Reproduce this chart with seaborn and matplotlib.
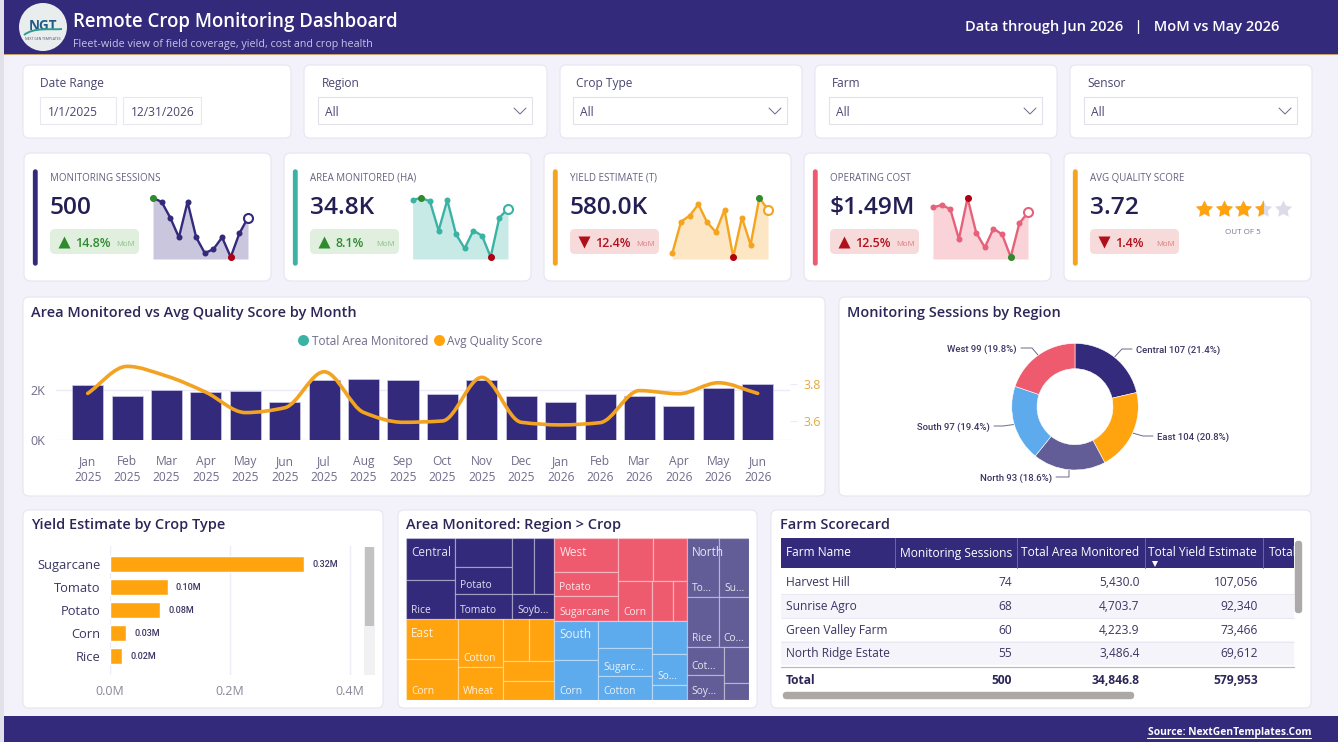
import numpy as np
import matplotlib
matplotlib.use("Agg")
import matplotlib.pyplot as plt
from matplotlib.patches import FancyBboxPatch, Rectangle, Circle, PathPatch
from matplotlib.path import Path
from matplotlib.lines import Line2D
import seaborn as sns

# ---------- data ----------
MONTHS = ['Jan\n2025','Feb\n2025','Mar\n2025','Apr\n2025','May\n2025','Jun\n2025','Jul\n2025','Aug\n2025','Sep\n2025',
          'Oct\n2025','Nov\n2025','Dec\n2025','Jan\n2026','Feb\n2026','Mar\n2026','Apr\n2026','May\n2026','Jun\n2026']
AREA_MONTHLY = [2185,1748,1974,1907,1947,1510,2397,2437,2371,1828,2397,1762,1497,1828,1735,1338,2066,2238]
QUALITY_MONTHLY = [3.748,3.893,3.841,3.754,3.645,3.671,3.864,3.646,3.593,3.600,3.834,3.593,3.579,3.591,3.763,3.746,3.805,3.748]
SESSIONS_12M = [36,35,31,26,35,26,22,23,26,21,27,31]
AREA_12M = AREA_MONTHLY[-12:]
YIELD_12M = [17000,30700,33350,38300,30450,26250,35800,15400,32500,20700,41000,36000]
COST_12M = [99800,102000,98200,69400,108800,75500,61400,79400,73900,52200,84500,95000]

REGIONS = ['Central','East','North','South','West']
REGION_SESSIONS = [107,104,93,97,99]
REGION_LABELS = ['Central 107 (21.4%)','East 104 (20.8%)','North 93 (18.6%)','South 97 (19.4%)','West 99 (19.8%)']

CROPS = ['Sugarcane','Tomato','Potato','Corn','Rice']
CROP_YIELD = [0.3228,0.096,0.083,0.0267,0.0205]

TREE_CENTRAL = [[('',1301),('Rice',1208)],
                [('',1038),('Potato',966),('Tomato',895)],
                [[('',764),('',695)],('Soyb...',677)]]
TREE_EAST = [[('',1314),('Corn',1336)],
             [('Cotton',1317),('Wheat',928)],
             [[('',686),('',677)],('',649),('',606)]]
TREE_WEST = [[('',1366),('Potato',964),('Sugarcane',991)],
             [[('',945),('',900)],[('Corn',847),('',523),('',332)]]]
TREE_SOUTH = [[('',1078),('Corn',1087)],
              [('',932),('Sugarc...',932),('Cotton',830)],
              [('',704),('So...',683),('',316)]]
TREE_NORTH = [[[('To...',1210),('Su...',1111)],
               [('Rice',1005),('Co...',963)],
               [[('Cot...',654),('Soy...',591)],[('',565),('',262)]]]]
TREEMAP_COLUMNS = [['Central','East'],['West','South'],['North']]
TREES = {'Central':TREE_CENTRAL,'East':TREE_EAST,'West':TREE_WEST,'South':TREE_SOUTH,'North':TREE_NORTH}

TABLE_HEADERS = ['Farm Name','Monitoring Sessions','Total Area Monitored','Total Yield Estimate']
FARMS = ['Harvest Hill','Sunrise Agro','Green Valley Farm','North Ridge Estate']
FARM_SESSIONS = ['74','68','60','55']
FARM_AREA = ['5,430.0','4,703.7','4,223.9','3,486.4']
FARM_YIELD = ['107,056','92,340','73,466','69,612']
TOTALS = ['Total','500','34,846.8','579,953']

KPI_TITLES = ['MONITORING SESSIONS','AREA MONITORED (HA)','YIELD ESTIMATE (T)','OPERATING COST','AVG QUALITY SCORE']
KPI_VALUES = ['500','34.8K','580.0K','$1.49M','3.72']
KPI_DELTAS = ['14.8%','8.1%','12.4%','12.5%','1.4%']
KPI_UP = [True,True,False,True,False]
KPI_GOOD = [True,True,False,False,False]
QUALITY_SCORE = 3.72
FILTERS = ['Region','Crop Type','Farm','Sensor']

# ---------- style ----------
NAVY='#332A7C'; TEAL='#3BB3A4'; ORANGE='#FFA30F'; CORAL='#EF5B6E'; BLUE='#5DAAEC'; SLATE='#625C97'
INK='#2B2657'; GREY='#6F6C8A'; PAGE='#F3F1F9'
REGION_COLORS={'Central':NAVY,'East':ORANGE,'North':SLATE,'South':BLUE,'West':CORAL}

sns.set_style('white')
plt.rcParams['font.family']=['Open Sans','DejaVu Sans']
W,H=1338,742
fig=plt.figure(figsize=(W/100,H/100),dpi=100,facecolor=PAGE)
def fs(px): return px*0.72
def px_axes(x0,y0,x1,y1,z=2):
    ax=fig.add_axes([x0/W,1-y1/H,(x1-x0)/W,(y1-y0)/H],zorder=z)
    ax.patch.set_alpha(0)
    return ax

bg=fig.add_axes([0,0,1,1],zorder=0); bg.set_xlim(0,W); bg.set_ylim(H,0); bg.axis('off')
top=fig.add_axes([0,0,1,1],zorder=10); top.set_xlim(0,W); top.set_ylim(H,0); top.axis('off'); top.patch.set_alpha(0)

def card(x0,y0,x1,y1,r=6):
    bg.add_patch(FancyBboxPatch((x0+r,y0+r),x1-x0-2*r,y1-y0-2*r,boxstyle=f'round,pad={r},rounding_size={r}',
                                fc='white',ec='#E7E5F1',lw=0.8))
def rect(x0,y0,x1,y1,fc,ec='none',lw=0,a=top,z=1):
    a.add_patch(Rectangle((x0,y0),x1-x0,y1-y0,fc=fc,ec=ec,lw=lw,zorder=z))
def txt(x,y,s,size,color=INK,ha='left',va='center_baseline',weight='normal',a=top,**k):
    return a.text(x,y-1,s,fontsize=fs(size),color=color,ha=ha,va=va,fontweight=weight,**k)

# page frame
rect(0,0,4,H,'#E2E1EA',a=bg)
rect(4,0,W,53.5,NAVY,a=bg)
rect(4,53.5,W,55,'#C9A06A',a=bg)
rect(4,716,W,H,NAVY,a=bg)

# logo
bg.add_patch(Circle((43,27),24,fc='#E9EDEE',ec='none',zorder=2))
txt(43,26,'NGT',13.5,color='#1F5D86',ha='center',weight='bold',a=bg,zorder=3)
bg.add_patch(PathPatch(Path([(24,35),(34,27),(50,30),(62,29)],[Path.MOVETO,Path.CURVE4,Path.CURVE4,Path.CURVE4]),
                       fc='none',ec='#2E9A93',lw=1.4,zorder=3))
txt(43,39.5,'NEXT GEN TEMPLATES',3.4,color='#44506a',ha='center',a=bg,zorder=3)
txt(73,20.5,'Remote Crop Monitoring Dashboard',18.6,color='white',weight='semibold')
txt(73,44.5,'Fleet-wide view of field coverage, yield, cost and crop health',10.8,color='#C6C2E6')
txt(965,26.5,'Data through Jun 2026   |   MoM vs May 2026',14.6,color='white',weight='semibold')
t=txt(1311,732.5,'Source: NextGenTemplates.Com',10.3,color='white',ha='right',weight='bold')
top.plot([1147,1311],[738,738],color='white',lw=0.8)

# filters
card(23,65,291,138)
txt(40,83,'Date Range',12,color='#4A4770')
for x0,x1,s in [(40,116,'1/1/2025'),(123,201,'12/31/2026')]:
    rect(x0,97,x1,124,'white','#E9E8F0',0.8,a=bg,z=2)
    txt(x0+8,112,s,12,color='#4A4770')
for (cx0,cx1,lx,dx0,dx1),name in zip([(304,547,322,318,532),(560,802,576,573,787),(815,1057,832,829,1042),(1070,1312,1087,1084,1297)],FILTERS):
    card(cx0,65,cx1,138)
    txt(lx,83,name,12,color='#4A4770')
    rect(dx0,97,dx1,124,'white','#E2E1EA',0.8,a=bg,z=2)
    txt(dx0+7,112,'All',12,color='#4A4770')
    top.plot([dx1-18,dx1-12,dx1-6],[108,114,108],color='#6A678C',lw=0.7)

# KPI cards
KPI_X=[24,284,544,804,1064]
KPI_ACCENT=[NAVY,TEAL,'#F4A41E',CORAL,'#F4A41E']
for i,x0 in enumerate(KPI_X):
    card(x0,153,x0+247,281,r=7)
    bg.add_patch(FancyBboxPatch((x0+9,169.5),4.6,96,boxstyle='round,pad=0,rounding_size=2.3',fc=KPI_ACCENT[i],ec=KPI_ACCENT[i],lw=0.2,zorder=2))
    tx=x0+26
    txt(tx,178,KPI_TITLES[i],9.8,color='#63607F')
    txt(tx,206,KPI_VALUES[i],24.5,color='#231F52',weight='semibold')
    good=KPI_GOOD[i]
    pillc='#E1EFDF' if good else '#F7DADA'
    c='#2E8B2E' if good else '#B0101A'
    soft='#8CC08C' if good else '#E07C80'
    pw=89
    bg.add_patch(FancyBboxPatch((tx+5,234),pw-10,15,boxstyle='round,pad=5,rounding_size=5',fc=pillc,ec='none',zorder=2))
    top.plot([tx+14],[242 if KPI_UP[i] else 241.5],marker='^' if KPI_UP[i] else 'v',ms=fs(11.5),color=c,mec='none')
    txt(tx+25,243,KPI_DELTAS[i],12.5,color=c,weight='semibold')
    txt(tx+pw-4,245,'MoM',7.8,color=soft,ha='right')

SPARKS=[(SESSIONS_12M,153,248,(20.5,38.03),NAVY,'#C9C6DE',False),
        (AREA_12M,412.6,508,(1300,2583),TEAL,'#C8EAE6',False),
        (YIELD_12M,672.3,768,(14530,44470),'#F4A41E','#FDE6C3',False),
        (COST_12M,933,1028,(50280,116470),'#E5627A','#FAD3D9',True)]
for vals,x0,x1,yl,c,fill,invert in SPARKS:
    ax=px_axes(x0,190,x1,259,z=3)
    xs=np.arange(len(vals))
    ax.fill_between(xs,vals,yl[0],color=fill,lw=0)
    sns.lineplot(x=xs,y=vals,ax=ax,color=c,lw=1.7,marker='o',ms=fs(6),mec=c,mew=0,errorbar=None,clip_on=False)
    imax,imin=int(np.argmax(vals)),int(np.argmin(vals))
    ax.plot(xs[imax],vals[imax],'o',ms=fs(7),color='#B00012' if invert else '#2E8B2E',mew=0,clip_on=False,zorder=5)
    ax.plot(xs[imin],vals[imin],'o',ms=fs(7),color='#2E8B2E' if invert else '#B00012',mew=0,clip_on=False,zorder=5)
    ax.plot(xs[-1],vals[-1],'o',ms=fs(9),mfc='white',mec=c,mew=1.5,clip_on=False,zorder=6)
    ax.set_xlim(0,len(vals)-1); ax.set_ylim(*yl); ax.axis('off')

# stars
star_ax=px_axes(1193,198,1294,220,z=3)
sx=np.arange(5)
star_ax.set_xlim(-0.55,4.58); star_ax.set_ylim(0,1); star_ax.axis('off')
STAR=Path.unit_regular_star(5,innerCircle=0.5)
star_ax.plot(sx,[0.5]*5,ls='',marker=STAR,ms=fs(18),color='#DCDCE8',mew=0)
line,=star_ax.plot(sx,[0.5]*5,ls='',marker=STAR,ms=fs(18),color='#FFA30F',mew=0,zorder=3)
line.set_clip_path(Rectangle((-0.55,0),round(QUALITY_SCORE*2)/2+0.05,1,transform=star_ax.transData))
txt(1243,232,'OUT OF 5',8,color='#7A7890',ha='center')

# combo chart
card(23,297,825,496)
txt(31,312.5,'Area Monitored vs Avg Quality Score by Month',14.5,color=INK,weight='semibold')
ax=px_axes(56,352,790,440)
sns.barplot(x=MONTHS,y=AREA_MONTHLY,color=NAVY,saturation=1,width=0.787,ax=ax,edgecolor='#CFCBE8',linewidth=0.5)
ax.set_xlim(-0.805,17.82); ax.set_ylim(0,3499)
ax.set_yticks([0,2000]); ax.set_yticklabels(['0K','2K'])
ax.yaxis.grid(True,color='#ECEAF5',lw=1); ax.xaxis.grid(False); ax.set_axisbelow(True)
ax.tick_params(axis='y',length=0,pad=8,labelsize=fs(12.5),labelcolor=GREY)
ax.tick_params(axis='x',length=0,pad=11,labelsize=fs(12),labelcolor=GREY)
for l in ax.get_xticklabels(): l.set_linespacing(1.25)
sns.despine(ax=ax,left=True,bottom=True)
ax.set_xlabel(''); ax.set_ylabel('')
ax2=ax.twinx(); ax2.patch.set_alpha(0)
ax2.set_ylim(3.498,3.97)
ax2.set_yticks([3.6,3.8]); ax2.set_yticklabels(['3.6','3.8'])
ax2.tick_params(axis='y',length=5,width=0.8,color='#ECEAF5',pad=5,labelsize=fs(12.5),labelcolor='#E2A83E')
sns.despine(ax=ax2,left=True,bottom=True,right=True)
q=np.array(QUALITY_MONTHLY)
d=np.diff(q); m=np.zeros_like(q); m[0]=d[0]; m[-1]=d[-1]
for i in range(1,len(q)-1):
    m[i]=0 if d[i-1]*d[i]<=0 else 2*d[i-1]*d[i]/(d[i-1]+d[i])
verts=[(0,q[0])]; codes=[Path.MOVETO]
for i in range(len(q)-1):
    verts+=[(i+1/3,q[i]+m[i]/3),(i+2/3,q[i+1]-m[i+1]/3),(i+1,q[i+1])]
    codes+=[Path.CURVE4]*3
ax2.add_patch(PathPatch(Path(verts,codes),fc='none',ec='#F2A321',lw=2.6,capstyle='round'))
handles=[Line2D([],[],ls='',marker='o',ms=fs(11),color=TEAL,mew=0,label='Total Area Monitored'),
         Line2D([],[],ls='',marker='o',ms=fs(11),color='#FFA30F',mew=0,label='Avg Quality Score')]
ax2.legend(handles=handles,ncols=2,frameon=False,fontsize=fs(11.8),labelcolor=GREY,handlelength=0.9,handletextpad=0.25,columnspacing=0.45,
           loc='center',bbox_to_anchor=(420/W,1-341/H),bbox_transform=fig.transFigure,borderpad=0)

# donut
card(839,297,1311,496)
txt(847,312.5,'Monitoring Sessions by Region',14.5,color=INK,weight='semibold')
pax=px_axes(1075-63.3,406.7-63.3,1075+63.3,406.7+63.3,z=3)
wedges,_=pax.pie(REGION_SESSIONS,colors=[REGION_COLORS[r] for r in REGIONS],startangle=90,counterclock=False,radius=1,
                 wedgeprops=dict(width=0.4,ec='white',lw=0.4))
pax.set_xlim(-1,1); pax.set_ylim(-1,1)
LEADERS=[(1122,349,1132,1136,'left'),(1143,436,1153,1157,'left'),(1069,477,1056,1052,'right'),(1003,426,994,990,'right'),(1032,348,1021,1017,'right')]
for w,(ex,ey,lx,tx,ha),lab in zip(wedges,LEADERS,REGION_LABELS):
    ang=np.radians((w.theta1+w.theta2)/2)
    sx0=1075+64*np.cos(ang); sy0=406.7-64*np.sin(ang)
    top.plot([sx0,ex,lx],[sy0,ey,ey],color='#6B688A',lw=0.7)
    txt(tx,ey+1,lab,9.5,color='#3A3663',ha=ha,weight='medium',family='Roboto')

# yield bar chart
card(23,510,383,708)
txt(31,524.5,'Yield Estimate by Crop Type',14.5,color=INK,weight='semibold')
bax=px_axes(110,546,352,675)
sns.barplot(x=CROP_YIELD,y=CROPS,orient='h',color=ORANGE,saturation=1,width=0.71,ax=bax)
bax.set_xlim(0,0.4033); bax.set_ylim(4.826,-0.783)
bax.set_xticks([0,0.2,0.4]); bax.set_xticklabels(['0.0M','0.2M','0.4M'])
bax.xaxis.grid(True,color='#EEECF5',lw=1); bax.yaxis.grid(False); bax.set_axisbelow(True)
bax.tick_params(axis='x',length=0,pad=7,labelsize=fs(12.5),labelcolor='#8A8899')
bax.tick_params(axis='y',length=0,pad=7,labelsize=fs(12.9),labelcolor='#3A3663')
bax.set_xlabel(''); bax.set_ylabel('')
sns.despine(ax=bax,left=True,bottom=True)
for i,v in enumerate(CROP_YIELD):
    bax.annotate(f'{v:.2f}M',(v,i),xytext=(6,0),textcoords='offset points',va='center',fontsize=fs(9),color='#3A3663',family='Roboto',fontweight='medium')
rect(364,547,374.5,675,'#F1F1F3',a=bg,z=2)
rect(365,547,374,626,'#C2C2C2',a=bg,z=3)

# treemap
card(398,510,757,708)
txt(406,524.5,'Area Monitored: Region > Crop',14.5,color=INK,weight='semibold')
tm=px_axes(406,538.3,749.3,700,z=3)
def weight(n):
    if isinstance(n,tuple): return n[1]
    return sum(weight(c) for c in n)
def layout(node,x0,y0,x1,y1,horizontal,out):
    if isinstance(node,tuple):
        out.append((node[0],x0,y0,x1,y1)); return
    tot=weight(node); pos=x0 if horizontal else y0
    for c in node:
        f=weight(c)/tot
        if horizontal:
            layout(c,pos,y0,pos+f*(x1-x0),y1,False,out); pos+=f*(x1-x0)
        else:
            layout(c,x0,pos,x1,pos+f*(y1-y0),True,out); pos+=f*(y1-y0)
total=sum(weight(TREES[r]) for col in TREEMAP_COLUMNS for r in col)
tm.set_xlim(0,1); tm.set_ylim(1,0); tm.axis('off')
PXX=343.3; PXY=161.7
cx=0.0
for col in TREEMAP_COLUMNS:
    cw=sum(weight(TREES[r]) for r in col)/total
    cy=0.0
    for r in col:
        rh=weight(TREES[r])/(cw*total)
        out=[]
        layout(TREES[r],cx,cy,cx+cw,cy+rh,True,out)
        for lab,a0,b0,a1,b1 in out:
            tm.add_patch(Rectangle((a0,b0),a1-a0,b1-b0,fc=REGION_COLORS[r],ec=(1,1,1,0.32),lw=0.9))
            if lab:
                tm.text(a0+5/PXX,b1-10/PXY,lab,fontsize=fs(10.2),color='white',alpha=0.85,ha='left',va='center_baseline')
        tm.text(cx+5/PXX,cy+12.5/PXY,r,fontsize=fs(11.8),color='white',alpha=0.85,ha='left',va='center_baseline')
        cy+=rh
    cx+=cw

# table
card(771,510,1311,708)
txt(780,524.5,'Farm Scorecard',14.5,color=INK,weight='semibold')
rect(780.5,538,1294,568,NAVY,a=bg,z=2)
for x in [895,1017,1145,1263]:
    top.plot([x,x],[538,568],color='#6D66A8',lw=0.7)
HX=[786,1012,1139,1257]; HA=['left','right','right','right']
for x,h,s in zip(HX,HA,TABLE_HEADERS):
    txt(x,552.5,s,12,color='white',ha=h)
txt(1269,552.5,'Total',12,color='white').set_clip_path(Rectangle((780,538),514,30,transform=top.transData))
top.plot([1155],[563.5],marker='v',ms=fs(6.5),color='white',mew=0)
RY=[581.7,605.7,629.7,653]
for i,yy in enumerate(RY):
    if i%2==1: rect(780.5,yy-12,1294,yy+12,'#F6F4FB',a=bg,z=2)
    if i<3: bg.plot([780.5,1294],[yy+12,yy+12],color='#E9E7F2',lw=0.7,zorder=3)
    txt(786,yy,FARMS[i],12,color='#3A3663')
    txt(1012,yy,FARM_SESSIONS[i],12,color='#3A3663',ha='right')
    txt(1139.5,yy,FARM_AREA[i],12,color='#3A3663',ha='right')
    txt(1258,yy,FARM_YIELD[i],12,color='#3A3663',ha='right')
bg.plot([781,1294],[667.3,667.3],color='#B9B8C4',lw=0.9,zorder=3)
for x,h,s in zip([786,1012,1139.5,1258],HA,TOTALS):
    txt(x,680,s,12,color='#2B2657',ha=h,weight='bold')
bg.add_patch(FancyBboxPatch((1295,541),7,72,boxstyle='round,pad=0,rounding_size=3',fc='#ABA9A9',ec='#ABA9A9',lw=0.3,zorder=3))
bg.add_patch(FancyBboxPatch((783,692),351,7,boxstyle='round,pad=0,rounding_size=3.5',fc='#ABA8A5',ec='#ABA8A5',lw=0.3,zorder=3))

fig.savefig('out.png',dpi=100,facecolor=PAGE)
